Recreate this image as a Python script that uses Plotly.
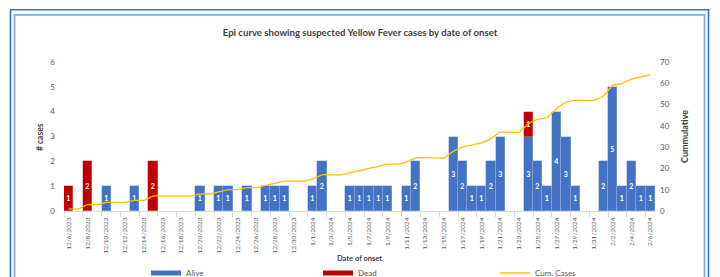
import plotly.graph_objects as go
import pandas as pd

# ---- data ----
dates = pd.date_range("2023-12-06", "2024-02-06", freq="D")  # daily date-of-onset categories
alive = [0, 0, 0, 0, 1, 0, 0, 1, 0, 0,
         0, 0, 0, 0, 1, 0, 1, 1, 0, 1,
         0, 1, 1, 1, 0, 0, 1, 2, 0, 0,
         1, 1, 1, 1, 1, 0, 1, 2, 0, 0,
         0, 3, 2, 1, 1, 2, 3, 0, 0, 3,
         2, 1, 4, 3, 1, 0, 0, 2, 5, 1,
         2, 1, 1]
dead = [1, 0, 2, 0, 0, 0, 0, 0, 0, 2,
        0, 0, 0, 0, 0, 0, 0, 0, 0, 0,
        0, 0, 0, 0, 0, 0, 0, 0, 0, 0,
        0, 0, 0, 0, 0, 0, 0, 0, 0, 0,
        0, 0, 0, 0, 0, 0, 0, 0, 0, 1,
        0, 0, 0, 0, 0, 0, 0, 0, 0, 0,
        0, 0, 0]
cum_cases = [1, 1, 3, 3, 4, 4, 4, 5, 5, 7,
             7, 7, 7, 7, 8, 8, 9, 10, 10, 11,
             11, 12, 13, 14, 14, 14, 15, 17, 17, 17,
             18, 19, 20, 21, 22, 22, 23, 25, 25, 25,
             25, 28, 30, 31, 32, 34, 37, 37, 37, 41,
             43, 44, 48, 51, 52, 52, 52, 54, 59, 60,
             62, 63, 64]

TITLE = "Epi curve showing suspected Yellow Fever cases by date of onset"
FONT = "Lato"
GRAY = "#595959"
DARK = "#404040"
BLUE = "#4472C4"
RED = "#C00000"
GOLD = "#FFC000"
DAY = 86400000

W, H = 720, 277
ML, MR, MT, MB = 64, 65, 62, 66
PW, PH = W - ML - MR, H - MT - MB


def px_x(x):
    return (x - ML) / PW


def px_y(y):
    return (H - MB - y) / PH


def nz(vals):
    return [v if v else None for v in vals]


def labels(vals):
    return [str(v) if v else "" for v in vals]


fig = go.Figure()

fig.add_trace(go.Bar(
    x=dates, y=nz(alive), name="Alive", width=DAY,
    marker=dict(color=BLUE, line=dict(color="#8FAADC", width=0.5)),
    text=labels(alive), constraintext="none",
    textposition="inside", insidetextanchor="middle", textangle=0,
    textfont=dict(color="white", size=7, family=FONT, weight="bold"),
    legendgroup="alive", showlegend=False,
))
fig.add_trace(go.Bar(
    x=dates, y=nz(dead), name="Dead", width=DAY,
    marker=dict(color=RED, line=dict(color="#E08080", width=0.5)),
    text=labels(dead), constraintext="none",
    textposition="inside", insidetextanchor="middle", textangle=0,
    textfont=dict(color="white", size=7, family=FONT, weight="bold"),
    legendgroup="dead", showlegend=False,
))
fig.add_trace(go.Scatter(
    x=dates, y=cum_cases, name="Cum. Cases", yaxis="y2", mode="lines",
    line=dict(color=GOLD, width=1.3, shape="spline", smoothing=0.5),
    showlegend=False, legendgroup="cum",
))
# legend entries (Excel-style wide swatches), one legend box each
fig.add_trace(go.Scatter(x=[None], y=[None], mode="lines", name="Alive",
                         line=dict(color=BLUE, width=5), legendgroup="alive",
                         legend="legend"))
fig.add_trace(go.Scatter(x=[None], y=[None], mode="lines", name="Dead",
                         line=dict(color=RED, width=5), legendgroup="dead",
                         legend="legend2"))
fig.add_trace(go.Scatter(x=[None], y=[None], mode="lines", name="Cum. Cases",
                         line=dict(color=GOLD, width=1.3), legendgroup="cum",
                         yaxis="y2", legend="legend3"))

start = dates[0] - pd.Timedelta(hours=12)
end = dates[-1] + pd.Timedelta(hours=12)

leg_common = dict(
    orientation="h", xref="container", yref="container",
    xanchor="left", y=1 - 273 / H, yanchor="middle", itemwidth=30,
    font=dict(size=8, color=GRAY, family=FONT), bgcolor="rgba(0,0,0,0)",
)

fig.update_layout(
    width=W, height=H,
    margin=dict(l=ML, r=MR, t=MT, b=MB, pad=0, autoexpand=False),
    paper_bgcolor="white", plot_bgcolor="white",
    barmode="stack", bargap=0,
    font=dict(family=FONT, color=GRAY, size=8),
    title=dict(text=TITLE, x=0.5, xref="container", xanchor="center",
               y=1 - 33 / H, yref="container", yanchor="middle",
               font=dict(family=FONT, size=9.6, color=DARK, weight="bold")),
    xaxis=dict(
        type="date", range=[start, end],
        tickmode="linear", tick0=dates[0], dtick=2 * DAY,
        tickformat="%-m/%-d/%Y", tickangle=-90,
        tickfont=dict(size=6.5, color=GRAY, family=FONT),
        ticks="", ticklabelstandoff=3,
        showline=True, linecolor="#D9D9D9", linewidth=1,
        showgrid=False, zeroline=False,
        minor=dict(tickmode="linear", tick0=start, dtick=2 * DAY,
                   ticks="outside", ticklen=5, tickcolor="#D9D9D9",
                   tickwidth=1, showgrid=False),
    ),
    yaxis=dict(
        range=[0, 6], tickmode="linear", tick0=0, dtick=1,
        showgrid=False, zeroline=False, showline=False, ticks="",
        tickfont=dict(size=8, color=GRAY, family=FONT),
        ticklabelstandoff=8,
    ),
    yaxis2=dict(
        range=[0, 70], tickmode="linear", tick0=0, dtick=10,
        overlaying="y", side="right",
        showgrid=False, zeroline=False, showline=False, ticks="",
        tickfont=dict(size=8, color=GRAY, family=FONT),
        ticklabelstandoff=4,
    ),
    legend=dict(x=146 / W, **leg_common),
    legend2=dict(x=318 / W, **leg_common),
    legend3=dict(x=495 / W, **leg_common),
    showlegend=True,
)

fig.add_annotation(text="# cases", xref="paper", yref="paper",
                   x=px_x(40), y=px_y(137), xanchor="center", yanchor="middle",
                   textangle=-90, showarrow=False,
                   font=dict(size=8.5, color=DARK, family=FONT, weight="bold"))
fig.add_annotation(text="Cummulative", xref="paper", yref="paper",
                   x=px_x(684), y=px_y(137), xanchor="center", yanchor="middle",
                   textangle=-90, showarrow=False,
                   font=dict(size=9, color=DARK, family=FONT, weight="bold"))
fig.add_annotation(text="Date of onset", xref="paper", yref="paper",
                   x=px_x(359), y=px_y(258), xanchor="center", yanchor="middle",
                   showarrow=False,
                   font=dict(size=7.5, color=DARK, family=FONT, weight="bold"))

# document frame around the chart
fig.add_shape(type="rect", xref="paper", yref="paper",
              x0=px_x(10.5), x1=px_x(708.5), y0=px_y(9.8), y1=px_y(300),
              line=dict(color="#2E6FD0", width=1.6), fillcolor="rgba(0,0,0,0)")
fig.add_shape(type="rect", xref="paper", yref="paper",
              x0=px_x(14.5), x1=px_x(704.5), y0=px_y(14.8), y1=px_y(300),
              line=dict(color="#86A8E0", width=1.8), fillcolor="rgba(0,0,0,0)")

fig.write_html("out.html", config={"displayModeBar": False},
               post_script="document.body.style.margin='0';document.body.style.padding='0';")
